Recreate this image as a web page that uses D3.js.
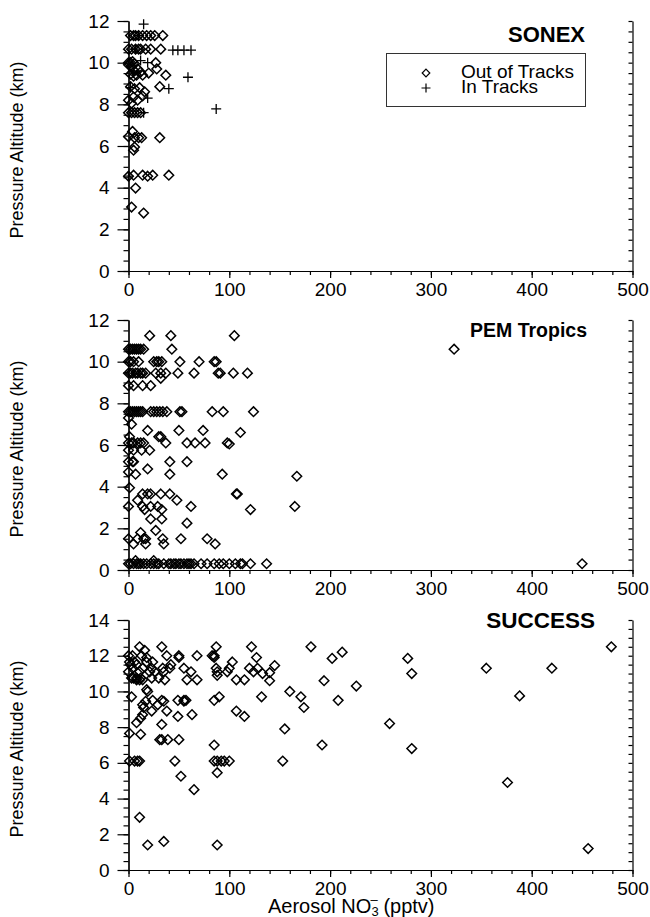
<!DOCTYPE html>
<html>
<head>
<meta charset="utf-8">
<script src="https://cdn.jsdelivr.net/npm/d3@7"></script>
<style>
  body { margin: 0; background: #fff; }
  svg { display: block; }
  text { font-family: "Liberation Sans", Arial, Helvetica, sans-serif; fill: #000; }
</style>
</head>
<body>
<svg width="650" height="917"></svg>
<script>
"use strict";

// x 눈금 (pptv)
const xTicks = [0, 100, 200, 300, 400, 500];

// SONEX : [NO3- pptv, altitude km]
const sonexOut = [
  [2, 11.3], [5, 11.3], [7, 11.3], [10, 11.3], [14, 11.3], [18, 11.3], [22, 11.3], [26, 11.3], [34, 11.3],
  [0, 10.65], [3, 10.65], [7, 10.65], [10, 10.65], [12, 10.65], [17, 10.65], [22, 10.65], [32, 10.65],
  [0, 10.0], [2, 10.0], [4, 10.05], [6, 9.95], [27, 10.0], [28, 9.7],
  [0, 9.9], [3, 9.8], [6, 9.6], [9, 9.7], [12, 9.55], [2, 9.45], [5, 9.35], [8, 9.4], [14, 9.4], [20, 9.5], [37, 9.4],
  [2, 8.85], [6, 8.75], [11, 8.8], [16, 8.6], [31, 8.85],
  [0, 8.2], [5, 8.35], [9, 8.2], [14, 8.4], [3, 8.05],
  [0, 7.6], [3, 7.6], [6, 7.6], [9, 7.6], [12, 7.6],
  [4, 6.7], [0, 6.45], [6, 6.4], [10, 6.4], [13, 6.4], [31, 6.4], [6, 5.95], [5, 5.8],
  [0, 4.55], [5, 4.6], [14, 4.6], [19, 4.55], [24, 4.6], [40, 4.6],
  [7, 3.98], [3, 3.07], [15, 2.78]
];
const sonexIn = [
  [15, 11.85], [10, 11.3], [7, 10.65], [44, 10.6], [49, 10.6], [55, 10.6], [62, 10.6],
  [19, 10.0], [12, 10.1], [5, 9.5], [59, 9.3], [40, 8.75], [2, 8.8], [19, 8.3],
  [15, 7.6], [87, 7.78], [0, 4.55]
];

// PEM Tropics
const pemOut = [
  [21, 11.25], [42, 11.25], [105, 11.25],
  [0, 10.6], [2, 10.6], [4, 10.6], [6, 10.6], [8, 10.6], [10, 10.6], [12, 10.6], [15, 10.6], [43, 10.6], [323, 10.6],
  [0, 10.0], [2, 10.0], [5, 10.0], [10, 10.0], [25, 10.0], [28, 10.0], [30, 10.0], [33, 10.0], [51, 10.0], [70, 10.0], [85, 10.0], [87, 10.0],
  [0, 9.45], [2, 9.45], [4, 9.45], [7, 9.45], [9, 9.45], [12, 9.45], [14, 9.45], [17, 9.45], [27, 9.45], [32, 9.45], [37, 9.45],
  [49, 9.45], [65, 9.45], [89, 9.45], [91, 9.45], [104, 9.45], [118, 9.45], [32, 9.2],
  [0, 8.85], [5, 8.85], [14, 8.85], [22, 8.85],
  [0, 7.6], [2, 7.6], [4, 7.6], [6, 7.6], [8, 7.6], [10, 7.6], [12, 7.6], [14, 7.6], [22, 7.6], [25, 7.6], [28, 7.6],
  [31, 7.6], [34, 7.6], [38, 7.6], [51, 7.6], [53, 7.6], [83, 7.6], [94, 7.6], [124, 7.6],
  [0, 7.3], [3, 7.0], [19, 6.7], [50, 6.7], [74, 6.7], [1, 6.4], [30, 6.4], [32, 6.4], [111, 6.6], [100, 6.05],
  [0, 6.1], [3, 6.1], [5, 6.1], [9, 6.1], [12, 6.1], [15, 6.1], [37, 6.1], [58, 6.1], [66, 6.1], [76, 6.1], [98, 6.1],
  [0, 5.75], [5, 5.75], [13, 5.75], [21, 5.75],
  [0, 5.2], [4, 5.2], [5, 5.2], [41, 5.2], [58, 5.2],
  [19, 4.85], [0, 4.7], [7, 4.6], [41, 4.6], [93, 4.6], [167, 4.5], [1, 3.95],
  [14, 3.65], [19, 3.65], [22, 3.65], [32, 3.65], [41, 3.65], [107, 3.65], [108, 3.65],
  [9, 3.35], [48, 3.35],
  [0, 3.05], [14, 3.05], [22, 3.05], [29, 3.05], [62, 3.05], [165, 3.05],
  [16, 2.9], [33, 2.9], [121, 2.9], [22, 2.45], [33, 2.45], [58, 2.25], [27, 1.9], [12, 1.8],
  [0, 1.5], [9, 1.5], [15, 1.5], [17, 1.5], [34, 1.5], [52, 1.5], [78, 1.5],
  [5, 1.25], [17, 1.25], [35, 1.25], [86, 1.25],
  [7, 0.45], [25, 0.45],
  [0, 0.3], [2, 0.3], [5, 0.3], [8, 0.3], [10, 0.3], [12, 0.3], [15, 0.3], [18, 0.3], [22, 0.3], [25, 0.3], [28, 0.3],
  [30, 0.3], [35, 0.3], [40, 0.3], [42, 0.3], [45, 0.3], [47, 0.3], [50, 0.3], [52, 0.3], [55, 0.3], [58, 0.3], [60, 0.3],
  [62, 0.3], [65, 0.3], [72, 0.3], [78, 0.3], [85, 0.3], [90, 0.3], [94, 0.3], [100, 0.3], [106, 0.3], [111, 0.3],
  [113, 0.3], [121, 0.3], [137, 0.3], [450, 0.3]
];

// SUCCESS
const successOut = [
  [11, 12.5], [33, 12.5], [87, 12.5], [122, 12.5], [181, 12.5], [479, 12.5], [16, 12.3], [212, 12.2],
  [0, 12.0], [4, 12.0], [13, 12.0], [38, 12.0], [50, 12.0], [68, 12.0], [83, 12.0], [85, 12.0],
  [127, 11.9], [202, 11.85], [277, 11.85], [18, 11.9], [50, 11.9], [85, 11.9],
  [1, 11.65], [6, 11.65], [18, 11.65], [24, 11.65], [103, 11.65], [2, 11.5], [8, 11.5], [42, 11.5], [145, 11.45],
  [4, 11.3], [14, 11.3], [23, 11.3], [34, 11.3], [41, 11.3], [55, 11.3], [87, 11.3], [100, 11.3], [120, 11.3],
  [128, 11.3], [355, 11.3], [420, 11.3],
  [0, 11.1], [11, 11.1], [21, 11.1], [26, 11.1], [35, 11.1], [62, 11.1], [88, 11.1], [98, 11.1], [124, 11.1],
  [133, 11.0], [140, 11.05], [281, 11.0], [88, 10.9],
  [3, 10.75], [5, 10.75], [8, 10.75], [12, 10.75], [23, 10.75], [30, 10.75],
  [8, 10.65], [11, 10.65], [14, 10.65], [36, 10.65], [58, 10.65], [68, 10.65], [107, 10.65], [115, 10.65],
  [140, 10.6], [194, 10.6], [226, 10.3], [18, 10.1], [19, 10.0], [160, 10.0],
  [3, 9.7], [90, 9.7], [132, 9.7], [171, 9.7], [388, 9.75],
  [24, 9.5], [33, 9.5], [49, 9.5], [55, 9.5], [57, 9.5], [85, 9.5], [208, 9.5], [17, 9.45], [35, 9.45], [55, 9.45],
  [14, 9.25], [29, 9.25], [15, 9.1], [174, 9.1], [23, 8.9], [38, 8.9], [107, 8.9],
  [14, 8.7], [63, 8.7], [49, 8.6], [115, 8.6], [12, 8.5], [8, 8.25], [33, 8.15], [259, 8.2], [155, 7.9],
  [1, 7.65], [12, 7.6], [31, 7.3], [33, 7.3], [39, 7.3], [50, 7.3], [85, 7.0], [192, 7.0], [281, 6.8],
  [1, 6.1], [6, 6.1], [9, 6.1], [11, 6.1], [46, 6.1], [85, 6.1], [88, 6.1], [92, 6.1], [95, 6.1], [100, 6.1], [153, 6.1],
  [88, 5.45], [52, 5.25], [65, 4.5], [376, 4.9], [11, 2.95], [35, 1.6], [19, 1.4], [88, 1.4], [456, 1.2]
];

const panels = [
  { title: "SONEX", yMax: 12, top: 21, titleX: 585, titleY: 42, titleSize: 22, out: sonexOut, inT: sonexIn, legend: true },
  { title: "PEM Tropics", yMax: 12, top: 320, titleX: 587, titleY: 337, titleSize: 19.5, out: pemOut, inT: [], legend: false },
  { title: "SUCCESS", yMax: 14, top: 620, titleX: 595, titleY: 628, titleSize: 22.5, out: successOut, inT: [], legend: false }
];
const panelH = 250;

const svg = d3.select("svg");
const x = d3.scaleLinear().domain([0, 500]).range([128.5, 632.5]);

const diamond = (r) => `M0,${-r}L${r},0L0,${r}L${-r},0Z`;
const plus = (r) => `M${-r},0H${r}M0,${-r}V${r}`;

function styleAxis(g) {
  g.selectAll("path, line").attr("stroke", "#000").attr("stroke-width", 1.2);
  g.selectAll("text").attr("font-size", 19).attr("fill", "#000")
    .attr("font-family", "\"Liberation Sans\", Arial, sans-serif");
}

function drawPanel(p) {
  const y = d3.scaleLinear().domain([0, p.yMax]).range([p.top + panelH, p.top]);
  const g = svg.append("g");
  const minorY = d3.range(0, p.yMax + 0.01, 0.5);
  const majorY = d3.range(0, p.yMax + 0.01, 2);

  // 왼쪽 축
  g.append("g").attr("transform", `translate(${x(0)},0)`)
    .call(d3.axisLeft(y).tickValues(minorY).tickSize(5).tickSizeOuter(0).tickFormat(""))
    .call(styleAxis);
  g.append("g").attr("transform", `translate(${x(0)},0)`)
    .call(d3.axisLeft(y).tickValues(majorY).tickSize(11).tickSizeOuter(0).tickPadding(8).tickFormat(d3.format("d")))
    .call(styleAxis);

  // 오른쪽 축 (눈금만, 안쪽으로)
  g.append("g").attr("transform", `translate(${x(500)},0)`)
    .call(d3.axisLeft(y).tickValues(minorY).tickSize(4).tickSizeOuter(0).tickFormat(""))
    .call(styleAxis);

  // 아래 축
  g.append("g").attr("transform", `translate(0,${y(0)})`)
    .call(d3.axisBottom(x).tickValues(d3.range(0, 501, 20)).tickSize(4).tickSizeOuter(0).tickFormat(""))
    .call(styleAxis);
  g.append("g").attr("transform", `translate(0,${y(0)})`)
    .call(d3.axisBottom(x).tickValues(xTicks).tickSize(7).tickSizeOuter(0).tickPadding(5).tickFormat(d3.format("d")))
    .call(styleAxis);

  // y축 제목
  g.append("text")
    .attr("transform", `translate(23,${p.top + panelH / 2 + 4}) rotate(-90)`)
    .attr("text-anchor", "middle")
    .attr("font-size", 18)
    .text("Pressure Altitude (km)");

  // 패널 제목
  g.append("text")
    .attr("x", p.titleX).attr("y", p.titleY)
    .attr("text-anchor", "end")
    .attr("font-size", p.titleSize).attr("font-weight", "bold")
    .text(p.title);

  // 점들
  g.append("g").selectAll("path.out")
    .data(p.out)
    .enter().append("path")
    .attr("class", "out")
    .attr("transform", (d) => `translate(${x(d[0])},${y(d[1])})`)
    .attr("d", diamond(4.8))
    .attr("fill", "none").attr("stroke", "#000").attr("stroke-width", 1.5);

  g.append("g").selectAll("path.in")
    .data(p.inT)
    .enter().append("path")
    .attr("class", "in")
    .attr("transform", (d) => `translate(${x(d[0])},${y(d[1])})`)
    .attr("d", plus(5))
    .attr("fill", "none").attr("stroke", "#000").attr("stroke-width", 1.3);

  if (p.legend) {
    const lg = g.append("g");
    lg.append("rect").attr("x", 386.5).attr("y", 53.5).attr("width", 199).attr("height", 53)
      .attr("fill", "none").attr("stroke", "#333").attr("stroke-width", 1);
    lg.append("path").attr("transform", "translate(426,73)").attr("d", diamond(3.8))
      .attr("fill", "none").attr("stroke", "#000").attr("stroke-width", 1.2);
    lg.append("path").attr("transform", "translate(426,88)").attr("d", plus(4.5))
      .attr("fill", "none").attr("stroke", "#000").attr("stroke-width", 1.2);
    lg.append("text").attr("x", 461).attr("y", 78).attr("font-size", 19).text("Out of Tracks");
    lg.append("text").attr("x", 461).attr("y", 93).attr("font-size", 19).text("In Tracks");
  }
}

panels.forEach(drawPanel);

// x축 제목
const xt = svg.append("text")
  .attr("x", 268).attr("y", 913)
  .attr("font-size", 20);
xt.append("tspan").text("Aerosol NO");
xt.append("tspan").attr("font-size", 13).attr("dy", 3).text("3");
xt.append("tspan").attr("font-size", 13).attr("dx", -8).attr("dy", -12).text("–");
xt.append("tspan").attr("dy", 9).text(" (pptv)");
</script>
</body>
</html>
